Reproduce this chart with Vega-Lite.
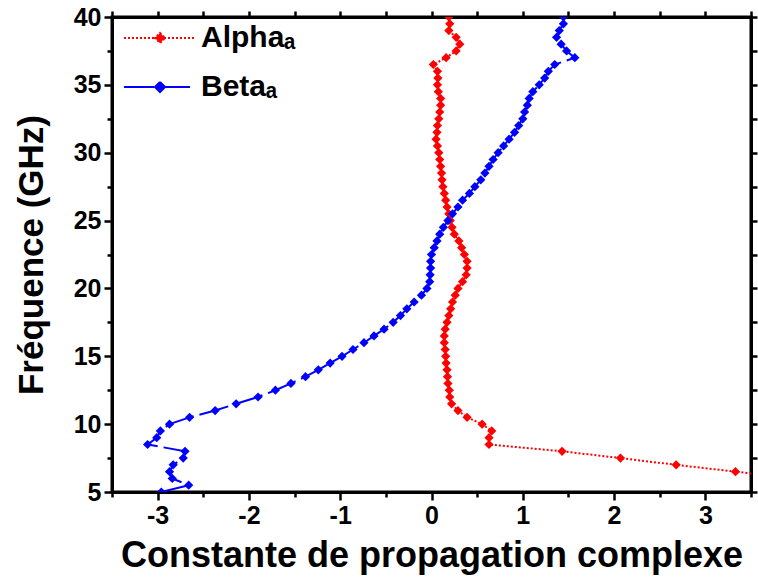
{
  "$schema": "https://vega.github.io/schema/vega-lite/v6.json",
  "autosize": {"type": "none"},
  "padding": {"left": 112, "top": 17, "right": 7, "bottom": 89},
  "width": 639,
  "height": 475,
  "background": "white",
  "config": {
    "view": {"stroke": "black", "strokeWidth": 3},
    "font": "Liberation Sans",
    "legend": {
      "orient": "none",
      "legendX": 29,
      "legendY": 2,
      "padding": 0,
      "symbolType": "M-2,0H2M0,-0.28L0.28,0L0,0.28L-0.28,0Z",
      "symbolSize": 1296,
      "symbolStrokeWidth": 2,
      "symbolOpacity": 1,
      "labelFont": "Liberation Sans",
      "labelFontSize": 30,
      "labelFontWeight": "bold",
      "labelColor": "black",
      "labelOffset": 22,
      "labelLimit": 400,
      "rowPadding": 15,
      "title": null
    }
  },
  "data": {
    "values": [
      {"s": "Alphaₐ", "f": 5, "v": 5.2},
      {"s": "Alphaₐ", "f": 5.5, "v": 4.6},
      {"s": "Alphaₐ", "f": 6, "v": 3.97},
      {"s": "Alphaₐ", "f": 6.5, "v": 3.33},
      {"s": "Alphaₐ", "f": 7, "v": 2.68},
      {"s": "Alphaₐ", "f": 7.5, "v": 2.07},
      {"s": "Alphaₐ", "f": 8, "v": 1.43},
      {"s": "Alphaₐ", "f": 8.5, "v": 0.63},
      {"s": "Alphaₐ", "f": 9, "v": 0.63},
      {"s": "Alphaₐ", "f": 9.5, "v": 0.66},
      {"s": "Alphaₐ", "f": 10, "v": 0.555},
      {"s": "Alphaₐ", "f": 10.5, "v": 0.39},
      {"s": "Alphaₐ", "f": 11, "v": 0.29},
      {"s": "Alphaₐ", "f": 11.5, "v": 0.22},
      {"s": "Alphaₐ", "f": 12, "v": 0.2},
      {"s": "Alphaₐ", "f": 12.5, "v": 0.195},
      {"s": "Alphaₐ", "f": 13, "v": 0.18},
      {"s": "Alphaₐ", "f": 13.5, "v": 0.175},
      {"s": "Alphaₐ", "f": 14, "v": 0.17},
      {"s": "Alphaₐ", "f": 14.5, "v": 0.16},
      {"s": "Alphaₐ", "f": 15, "v": 0.155},
      {"s": "Alphaₐ", "f": 15.5, "v": 0.15},
      {"s": "Alphaₐ", "f": 16, "v": 0.14},
      {"s": "Alphaₐ", "f": 16.5, "v": 0.14},
      {"s": "Alphaₐ", "f": 17, "v": 0.15},
      {"s": "Alphaₐ", "f": 17.5, "v": 0.17},
      {"s": "Alphaₐ", "f": 18, "v": 0.19},
      {"s": "Alphaₐ", "f": 18.5, "v": 0.21},
      {"s": "Alphaₐ", "f": 19, "v": 0.23},
      {"s": "Alphaₐ", "f": 19.5, "v": 0.26},
      {"s": "Alphaₐ", "f": 20, "v": 0.29},
      {"s": "Alphaₐ", "f": 20.5, "v": 0.34},
      {"s": "Alphaₐ", "f": 21, "v": 0.38},
      {"s": "Alphaₐ", "f": 21.5, "v": 0.39},
      {"s": "Alphaₐ", "f": 22, "v": 0.39},
      {"s": "Alphaₐ", "f": 22.5, "v": 0.36},
      {"s": "Alphaₐ", "f": 23, "v": 0.33},
      {"s": "Alphaₐ", "f": 23.5, "v": 0.3},
      {"s": "Alphaₐ", "f": 24, "v": 0.25},
      {"s": "Alphaₐ", "f": 24.5, "v": 0.225},
      {"s": "Alphaₐ", "f": 25, "v": 0.205},
      {"s": "Alphaₐ", "f": 25.5, "v": 0.19},
      {"s": "Alphaₐ", "f": 26, "v": 0.17},
      {"s": "Alphaₐ", "f": 26.5, "v": 0.155},
      {"s": "Alphaₐ", "f": 27, "v": 0.14},
      {"s": "Alphaₐ", "f": 27.5, "v": 0.125},
      {"s": "Alphaₐ", "f": 28, "v": 0.115},
      {"s": "Alphaₐ", "f": 28.5, "v": 0.11},
      {"s": "Alphaₐ", "f": 29, "v": 0.1},
      {"s": "Alphaₐ", "f": 29.5, "v": 0.09},
      {"s": "Alphaₐ", "f": 30, "v": 0.08},
      {"s": "Alphaₐ", "f": 30.5, "v": 0.065},
      {"s": "Alphaₐ", "f": 31, "v": 0.05},
      {"s": "Alphaₐ", "f": 31.5, "v": 0.06},
      {"s": "Alphaₐ", "f": 32, "v": 0.065},
      {"s": "Alphaₐ", "f": 32.5, "v": 0.08},
      {"s": "Alphaₐ", "f": 33, "v": 0.09},
      {"s": "Alphaₐ", "f": 33.5, "v": 0.1},
      {"s": "Alphaₐ", "f": 34, "v": 0.1},
      {"s": "Alphaₐ", "f": 34.5, "v": 0.075},
      {"s": "Alphaₐ", "f": 35, "v": 0.065},
      {"s": "Alphaₐ", "f": 35.5, "v": 0.07},
      {"s": "Alphaₐ", "f": 36, "v": 0.065},
      {"s": "Alphaₐ", "f": 36.5, "v": 0.02},
      {"s": "Alphaₐ", "f": 37, "v": 0.16},
      {"s": "Alphaₐ", "f": 37.5, "v": 0.27},
      {"s": "Alphaₐ", "f": 38, "v": 0.31},
      {"s": "Alphaₐ", "f": 38.5, "v": 0.27},
      {"s": "Alphaₐ", "f": 39, "v": 0.19},
      {"s": "Alphaₐ", "f": 39.5, "v": 0.2},
      {"s": "Alphaₐ", "f": 40, "v": 0.19},
      {"s": "Betaₐ", "f": 5, "v": -2.96},
      {"s": "Betaₐ", "f": 5.5, "v": -2.66},
      {"s": "Betaₐ", "f": 6, "v": -2.84},
      {"s": "Betaₐ", "f": 6.5, "v": -2.87},
      {"s": "Betaₐ", "f": 7, "v": -2.83},
      {"s": "Betaₐ", "f": 7.5, "v": -2.72},
      {"s": "Betaₐ", "f": 8, "v": -2.7},
      {"s": "Betaₐ", "f": 8.5, "v": -3.11},
      {"s": "Betaₐ", "f": 9, "v": -3.01},
      {"s": "Betaₐ", "f": 9.5, "v": -2.97},
      {"s": "Betaₐ", "f": 10, "v": -2.87},
      {"s": "Betaₐ", "f": 10.5, "v": -2.65},
      {"s": "Betaₐ", "f": 11, "v": -2.37},
      {"s": "Betaₐ", "f": 11.5, "v": -2.14},
      {"s": "Betaₐ", "f": 12, "v": -1.9},
      {"s": "Betaₐ", "f": 12.5, "v": -1.71},
      {"s": "Betaₐ", "f": 13, "v": -1.54},
      {"s": "Betaₐ", "f": 13.5, "v": -1.38},
      {"s": "Betaₐ", "f": 14, "v": -1.24},
      {"s": "Betaₐ", "f": 14.5, "v": -1.11},
      {"s": "Betaₐ", "f": 15, "v": -0.98},
      {"s": "Betaₐ", "f": 15.5, "v": -0.86},
      {"s": "Betaₐ", "f": 16, "v": -0.74},
      {"s": "Betaₐ", "f": 16.5, "v": -0.63},
      {"s": "Betaₐ", "f": 17, "v": -0.52},
      {"s": "Betaₐ", "f": 17.5, "v": -0.42},
      {"s": "Betaₐ", "f": 18, "v": -0.34},
      {"s": "Betaₐ", "f": 18.5, "v": -0.27},
      {"s": "Betaₐ", "f": 19, "v": -0.19},
      {"s": "Betaₐ", "f": 19.5, "v": -0.11},
      {"s": "Betaₐ", "f": 20, "v": -0.05},
      {"s": "Betaₐ", "f": 20.5, "v": -0.02},
      {"s": "Betaₐ", "f": 21, "v": -0.015},
      {"s": "Betaₐ", "f": 21.5, "v": -0.01},
      {"s": "Betaₐ", "f": 22, "v": -0.01},
      {"s": "Betaₐ", "f": 22.5, "v": 0.0},
      {"s": "Betaₐ", "f": 23, "v": 0.03},
      {"s": "Betaₐ", "f": 23.5, "v": 0.06},
      {"s": "Betaₐ", "f": 24, "v": 0.09},
      {"s": "Betaₐ", "f": 24.5, "v": 0.13},
      {"s": "Betaₐ", "f": 25, "v": 0.18},
      {"s": "Betaₐ", "f": 25.5, "v": 0.23},
      {"s": "Betaₐ", "f": 26, "v": 0.29},
      {"s": "Betaₐ", "f": 26.5, "v": 0.34},
      {"s": "Betaₐ", "f": 27, "v": 0.415},
      {"s": "Betaₐ", "f": 27.5, "v": 0.475},
      {"s": "Betaₐ", "f": 28, "v": 0.54},
      {"s": "Betaₐ", "f": 28.5, "v": 0.585},
      {"s": "Betaₐ", "f": 29, "v": 0.63},
      {"s": "Betaₐ", "f": 29.5, "v": 0.675},
      {"s": "Betaₐ", "f": 30, "v": 0.73},
      {"s": "Betaₐ", "f": 30.5, "v": 0.79},
      {"s": "Betaₐ", "f": 31, "v": 0.85},
      {"s": "Betaₐ", "f": 31.5, "v": 0.91},
      {"s": "Betaₐ", "f": 32, "v": 0.955},
      {"s": "Betaₐ", "f": 32.5, "v": 1.0},
      {"s": "Betaₐ", "f": 33, "v": 1.02},
      {"s": "Betaₐ", "f": 33.5, "v": 1.05},
      {"s": "Betaₐ", "f": 34, "v": 1.07},
      {"s": "Betaₐ", "f": 34.5, "v": 1.11},
      {"s": "Betaₐ", "f": 35, "v": 1.18},
      {"s": "Betaₐ", "f": 35.5, "v": 1.24},
      {"s": "Betaₐ", "f": 36, "v": 1.28},
      {"s": "Betaₐ", "f": 36.5, "v": 1.35},
      {"s": "Betaₐ", "f": 37, "v": 1.57},
      {"s": "Betaₐ", "f": 37.5, "v": 1.48},
      {"s": "Betaₐ", "f": 38, "v": 1.42},
      {"s": "Betaₐ", "f": 38.5, "v": 1.37},
      {"s": "Betaₐ", "f": 39, "v": 1.4},
      {"s": "Betaₐ", "f": 39.5, "v": 1.445},
      {"s": "Betaₐ", "f": 40, "v": 1.445}
    ]
  },
  "layer": [
    {
      "mark": {"type": "line", "clip": true, "strokeWidth": 2},
      "encoding": {
        "x": {
          "field": "v", "type": "quantitative",
          "scale": {"domain": [-3.5, 3.5], "nice": false, "zero": false},
          "axis": {
            "orient": "bottom",
            "values": [-3.5, -3, -2.5, -2, -1.5, -1, -0.5, 0, 0.5, 1, 1.5, 2, 2.5, 3, 3.5],
            "labelExpr": "datum.value % 1 === 0 ? toString(datum.value) : ''",
            "grid": true,
            "gridOpacity": 0,
            "domainColor": "black",
            "domainWidth": 3,
            "tickColor": "black",
            "tickWidth": 2.5,
            "tickSize": {"condition": {"test": "datum.value % 1 === 0", "value": 8}, "value": 5},
            "labelFont": "Liberation Sans",
            "labelFontWeight": "bold",
            "labelFontSize": 25,
            "labelColor": "black",
            "labelPadding": 3,
            "title": "Constante de propagation complexe",
            "titleFont": "Liberation Sans",
            "titleFontWeight": "bold",
            "titleFontSize": 36,
            "titleColor": "black",
            "titleBaseline": "alphabetic",
            "titleY": 74
          }
        },
        "y": {
          "field": "f", "type": "quantitative",
          "scale": {"domain": [5, 40], "nice": false, "zero": false},
          "axis": {
            "orient": "left",
            "values": [5, 7.5, 10, 12.5, 15, 17.5, 20, 22.5, 25, 27.5, 30, 32.5, 35, 37.5, 40],
            "labelExpr": "datum.value % 5 === 0 ? toString(datum.value) : ''",
            "labelFlush": false,
            "grid": true,
            "gridOpacity": 0,
            "domainColor": "black",
            "domainWidth": 3,
            "tickColor": "black",
            "tickWidth": 2.5,
            "tickSize": {"condition": {"test": "datum.value % 5 === 0", "value": 8}, "value": 5},
            "labelFont": "Liberation Sans",
            "labelFontWeight": "bold",
            "labelFontSize": 25,
            "labelColor": "black",
            "labelPadding": 3,
            "title": "Fréquence (GHz)",
            "titleFont": "Liberation Sans",
            "titleFontWeight": "bold",
            "titleFontSize": 35,
            "titleColor": "black",
            "titleBaseline": "alphabetic",
            "titleX": -70
          }
        },
        "order": {"field": "f", "type": "quantitative"},
        "color": {
          "field": "s", "type": "nominal",
          "scale": {"domain": ["Alphaₐ", "Betaₐ"], "range": ["#ff0000", "#0000ff"]},
          "legend": {"encode": {"symbols": {"update": {"fill": {"scale": "color", "field": "value"}}}}}
        },
        "strokeDash": {
          "field": "s", "type": "nominal",
          "scale": {"domain": ["Alphaₐ", "Betaₐ"], "range": [[2, 2], [30, 6]]}
        }
      }
    },
    {
      "mark": {"type": "point", "clip": true, "filled": true, "shape": "diamond", "size": 85, "opacity": 1},
      "encoding": {
        "x": {
          "field": "v", "type": "quantitative",
          "axis": {
            "orient": "top",
            "values": [-3.5, -3, -2.5, -2, -1.5, -1, -0.5, 0, 0.5, 1, 1.5, 2, 2.5, 3, 3.5],
            "labels": false,
            "title": null,
            "domainColor": "black",
            "domainWidth": 3,
            "tickColor": "black",
            "tickWidth": 2.5,
            "tickSize": 6
          }
        },
        "y": {
          "field": "f", "type": "quantitative",
          "axis": {
            "orient": "right",
            "values": [5, 7.5, 10, 12.5, 15, 17.5, 20, 22.5, 25, 27.5, 30, 32.5, 35, 37.5, 40],
            "labels": false,
            "title": null,
            "domainColor": "black",
            "domainWidth": 3,
            "tickColor": "black",
            "tickWidth": 2.5,
            "tickSize": 6
          }
        },
        "color": {"field": "s", "type": "nominal"}
      }
    }
  ],
  "resolve": {"axis": {"x": "independent", "y": "independent"}}
}
